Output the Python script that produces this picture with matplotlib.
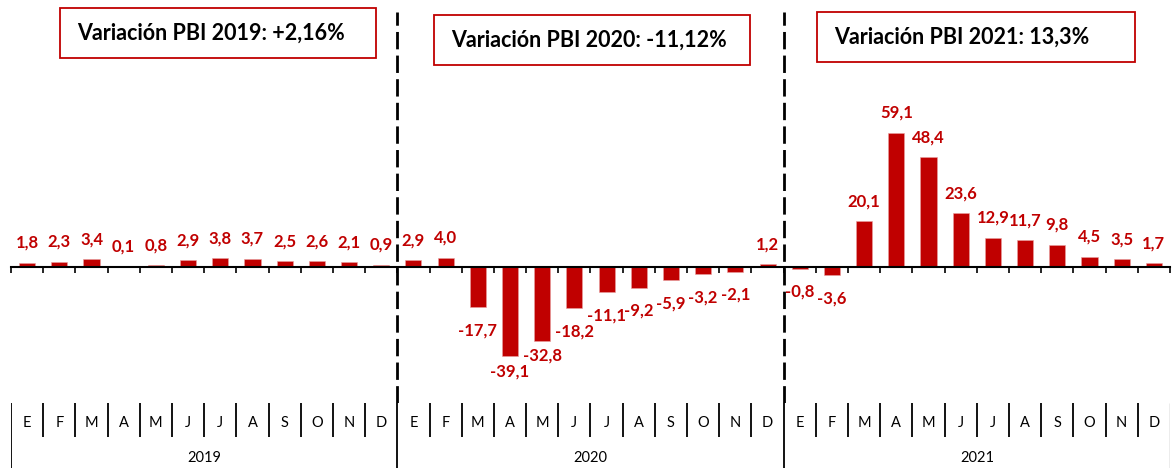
import matplotlib
matplotlib.use("Agg")
import matplotlib.pyplot as plt
from matplotlib.patches import Rectangle

plt.rcParams['font.family'] = ['Lato', 'DejaVu Sans']
plt.rcParams['lines.scale_dashes'] = False

months = ["E", "F", "M", "A", "M", "J", "J", "A", "S", "O", "N", "D"]
years = ["2019", "2020", "2021"]
values_2019 = [1.8, 2.3, 3.4, 0.1, 0.8, 2.9, 3.8, 3.7, 2.5, 2.6, 2.1, 0.9]
values_2020 = [2.9, 4.0, -17.7, -39.1, -32.8, -18.2, -11.1, -9.2, -5.9, -3.2, -2.1, 1.2]
values_2021 = [-0.8, -3.6, 20.1, 59.1, 48.4, 23.6, 12.9, 11.7, 9.8, 4.5, 3.5, 1.7]
box_titles = ["Variación PBI 2019: +2,16%", "Variación PBI 2020: -11,12%", "Variación PBI 2021: 13,3%"]

values = values_2019 + values_2020 + values_2021
n = len(values)
RED = "#C00000"

W, H = 1172, 468
fig = plt.figure(figsize=(W / 100, H / 100), dpi=100)

x0, x1 = 11, 1170
axis_bottom_px = 403
zero_px = 267
scale = 2.27  # px per unit
ytop = zero_px / scale
ybot = -(axis_bottom_px - zero_px) / scale

ax = fig.add_axes([x0 / W, (H - axis_bottom_px) / H, (x1 - x0) / W, axis_bottom_px / H])
ax.set_xlim(-0.5, n - 0.5)
ax.set_ylim(ybot, ytop)
xs = list(range(n))
ax.bar(xs, values, width=0.5, color=RED, edgecolor="#E8A0A0", linewidth=0.4, zorder=2)

for s in ["top", "right", "left"]:
    ax.spines[s].set_visible(False)
ax.spines["bottom"].set_position(("data", 0))
ax.spines["bottom"].set_linewidth(1.5)
ax.spines["bottom"].set_zorder(3)
ax.set_xticks([i - 0.5 for i in range(n + 1)])
ax.set_xticklabels([])
ax.tick_params(axis="x", direction="out", length=4, width=1.2, color="black")
ax.set_yticks([])

# data labels (outside end, kept inside plot area; a neighbour of a clamped label is lifted)
min_center = ybot + (axis_bottom_px - 372) / scale
label_gap = 16 / scale
prev_clamped = None
for x, v in zip(xs, values):
    lab = f"{v:.1f}".replace(".", ",")
    if v >= 0:
        ax.annotate(lab, (x, v), xytext=(0, 14.4), textcoords="offset points",
                    ha="center", va="center", color=RED, fontsize=12, fontweight="bold")
        prev_clamped = None
    else:
        natural = v - 23 / scale
        yc = max(natural, min_center)
        clamped = yc > natural
        if prev_clamped is not None and yc < prev_clamped + label_gap:
            yc = prev_clamped + label_gap
        ax.text(x, yc, lab, ha="center", va="center", color=RED, fontsize=12, fontweight="bold")
        prev_clamped = yc if clamped else None

# dashed separators
for b in [11.5, 23.5]:
    ax.axvline(b, ymin=0, ymax=(axis_bottom_px - 12) / axis_bottom_px, color="black",
               lw=2, dashes=(12.5, 4.5), zorder=1)

# category axis (bottom)
ax2 = fig.add_axes([x0 / W, 0, (x1 - x0) / W, (H - axis_bottom_px) / H])
ax2.set_xlim(-0.5, n - 0.5)
ax2.set_ylim(0, H - axis_bottom_px)
ax2.axis("off")
top2 = H - axis_bottom_px
for i in range(n + 1):
    b = i - 0.5
    if i % 12 == 0:
        color = "black" if i < n else "#A0A0A0"
        ax2.plot([b, b], [0, top2], color=color, lw=1.3 if i < n else 1.0,
                 solid_capstyle="butt")
    else:
        ax2.plot([b, b], [top2 - 34, top2], color="black", lw=1.3, solid_capstyle="butt")
for i in range(n):
    ax2.text(i, 45, months[i % 12], ha="center", va="center", fontsize=10.5, color="black")
for k, yl in enumerate(years):
    ax2.text(k * 12 + 5.5, 10, yl, ha="center", va="center", fontsize=10.5, color="black")

# title boxes
boxes = [(60, 8, 376, 58, 77), (434, 15, 750, 65, 451), (817, 12, 1135, 62, 834)]
for (l, t, r, btm, tx), title in zip(boxes, box_titles):
    rect = Rectangle((l / W, 1 - btm / H), (r - l) / W, (btm - t) / H,
                     transform=fig.transFigure, fill=True, facecolor="white",
                     edgecolor=RED, lw=1.3, zorder=5)
    fig.patches.append(rect)
    fig.text(tx / W, 1 - ((t + btm) / 2) / H, title, ha="left", va="center",
             fontsize=15.5, fontweight="bold", color="black", zorder=6)

fig.savefig("out.png", dpi=100)
